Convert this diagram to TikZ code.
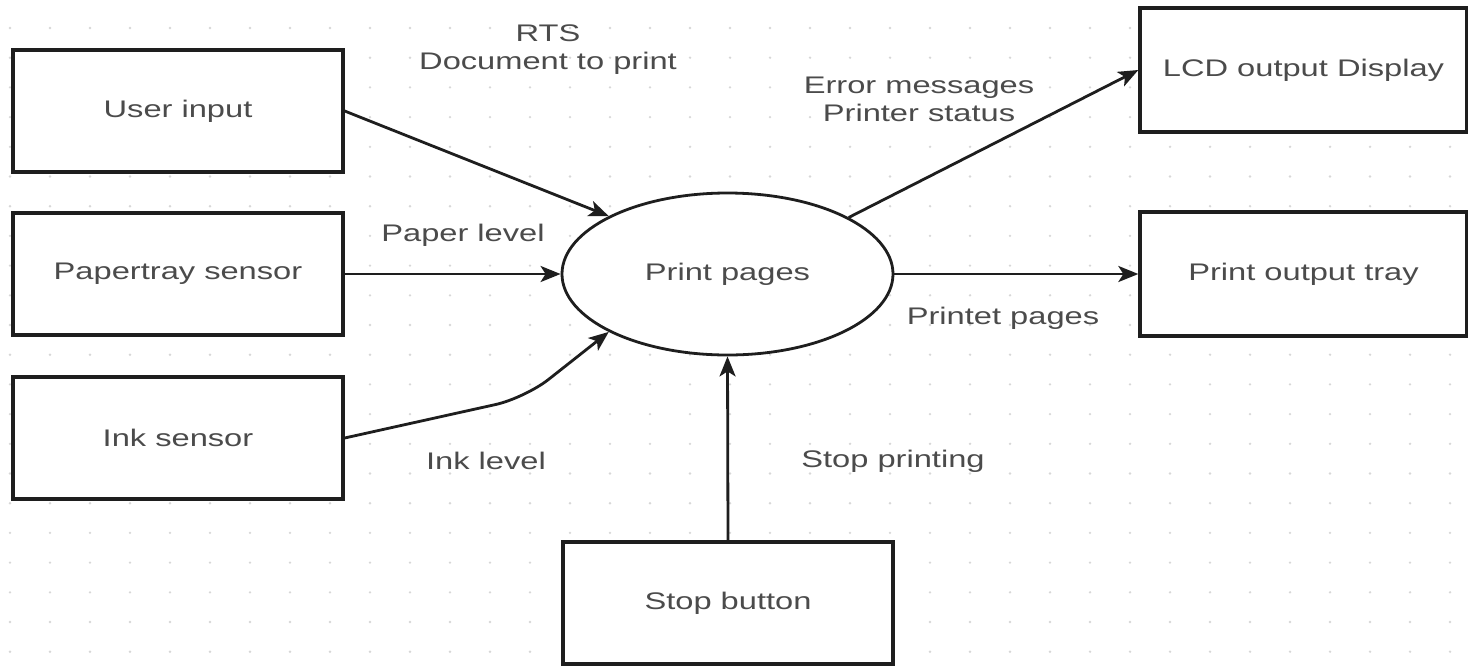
\documentclass[tikz,border=0pt]{standalone}
\usepackage{fontspec}
\setmainfont{Liberation Sans}[FakeStretch=1.36]
\usetikzlibrary{shapes.geometric,arrows.meta}
\definecolor{txt}{RGB}{75,75,75}
\definecolor{ln}{RGB}{30,30,30}
\definecolor{dotc}{RGB}{215,215,215}
\tikzset{
  x=1pt,y=-1pt,
  every node/.style={font=\fontsize{24}{28}\selectfont, text=txt},
  box/.style={draw=ln, line width=3.3pt, fill=white, minimum width=330pt, minimum height=122pt, inner sep=0pt},
  proc/.style={ellipse, draw=ln, line width=2.8pt, fill=white, minimum width=331pt, minimum height=162pt, inner sep=0pt},
  arr/.style={draw=ln, line width=2.8pt, -{Stealth[length=20pt,width=16pt,inset=5pt]}},
  lbl/.style={align=center, inner sep=0pt}
}
\begin{document}
\begin{tikzpicture}
\useasboundingbox (0,0) rectangle (1468,665);
\fill[white] (0,0) rectangle (1468,665);
% dot grid
\foreach \i in {0,...,36} {
  \foreach \j in {0,...,22} {
    \fill[dotc] (10+40*\i, -1.7+29.7*\j) circle (1.3pt);
  }
}
% nodes
\node[box] (user) at (178,111) {User input};
\node[box] (paper) at (178,274) {Papertray sensor};
\node[box] (ink) at (178,438) {Ink sensor};
\node[proc] (pp) at (727.5,274) {Print pages};
\node[box, minimum width=327pt, minimum height=124pt] (lcd) at (1303.5,70) {LCD output Display};
\node[box, minimum width=327pt, minimum height=124pt] (tray) at (1303.5,274) {Print output tray};
\node[box] (stop) at (728,603) {Stop button};
% labels
\node[lbl] (l1) at (548,50) {RTS\\Document to print};
\node[lbl] (l2) at (919,99) {Error messages\\Printer status};
\node[lbl] (l3) at (463,235) {Paper level};
\node[lbl] (l4) at (1003,318) {Printet pages};
\node[lbl] (l5) at (486,461) {Ink level};
\node[lbl] (l6) at (893,461) {Stop printing};
% connectors
\coordinate (bend) at (525,398);
\draw[arr] (user.east) -- (pp.154);
\draw[arr] (paper.east) -- (pp.west);
\draw[arr, rounded corners=30pt] (ink.east) -- (bend) -- (pp.206);
\draw[arr] (pp.25) -- (lcd.west);
\draw[arr] (pp.east) -- (tray.west);
\draw[arr] (stop.north) -- (pp.south);
\end{tikzpicture}
\end{document}
